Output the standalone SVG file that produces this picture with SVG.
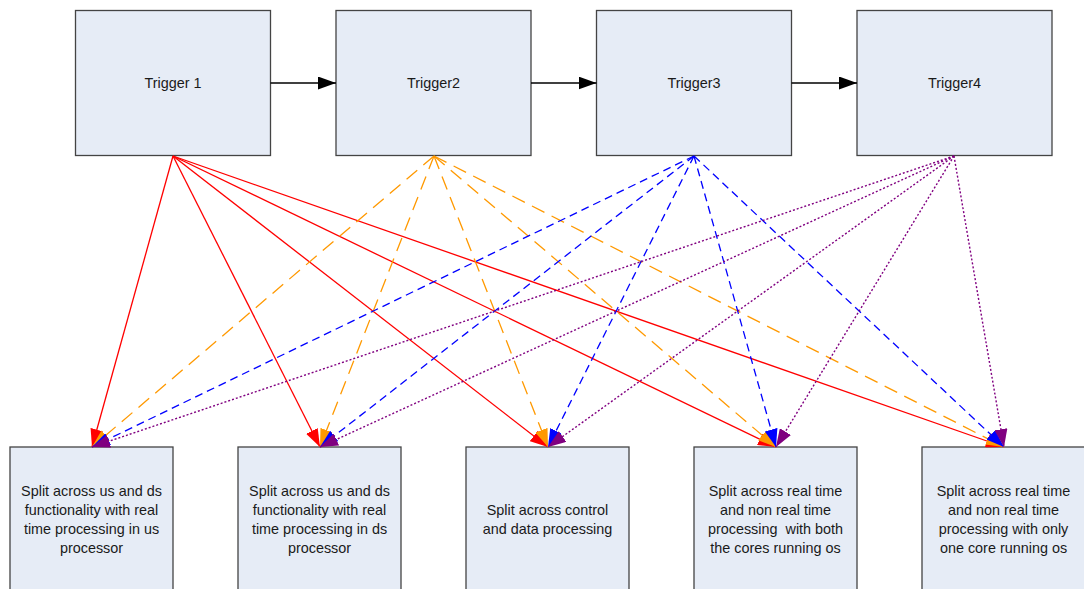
<svg xmlns="http://www.w3.org/2000/svg" width="1084" height="589" viewBox="0 0 1084 589">
<style>
.box{fill:#E6ECF6;stroke:#444;stroke-width:1.3}
text{font-family:"Liberation Sans",Arial,sans-serif;font-size:14.4px;fill:#1a1a1a;text-anchor:middle}
.r{stroke:#FF0000;stroke-width:1.3;fill:none;marker-end:url(#mr)}
.o{stroke:#FF9900;stroke-width:1.3;fill:none;stroke-dasharray:14 8;marker-end:url(#mo)}
.b{stroke:#0000FF;stroke-width:1.3;fill:none;stroke-dasharray:8 5;marker-end:url(#mb)}
.p{stroke:#800080;stroke-width:1.4;fill:none;stroke-dasharray:2 2;marker-end:url(#mp)}
.k{stroke:#000;stroke-width:1.3;fill:none;marker-end:url(#mk)}
</style>
<defs>
<marker id="mr" markerUnits="userSpaceOnUse" markerWidth="19" markerHeight="13" refX="18" refY="6.5" orient="auto"><path d="M0,0 L18,6.5 L0,13 z" fill="#FF0000"/></marker>
<marker id="mo" markerUnits="userSpaceOnUse" markerWidth="19" markerHeight="13" refX="18" refY="6.5" orient="auto"><path d="M0,0 L18,6.5 L0,13 z" fill="#FF9900"/></marker>
<marker id="mb" markerUnits="userSpaceOnUse" markerWidth="19" markerHeight="13" refX="18" refY="6.5" orient="auto"><path d="M0,0 L18,6.5 L0,13 z" fill="#0000FF"/></marker>
<marker id="mp" markerUnits="userSpaceOnUse" markerWidth="19" markerHeight="13" refX="18" refY="6.5" orient="auto"><path d="M0,0 L18,6.5 L0,13 z" fill="#800080"/></marker>
<marker id="mk" markerUnits="userSpaceOnUse" markerWidth="19" markerHeight="13" refX="18" refY="6.5" orient="auto"><path d="M0,0 L18,6.5 L0,13 z" fill="#000"/></marker>
</defs>
<rect width="1084" height="589" fill="#fff"/>
<g id="trigger1"><rect class="box" x="75.5" y="10.5" width="195" height="145"/><text x="173" y="88">Trigger 1</text></g>
<g id="trigger2"><rect class="box" x="336" y="10.5" width="195" height="145"/><text x="433.5" y="88">Trigger2</text></g>
<g id="trigger3"><rect class="box" x="596.5" y="10.5" width="195" height="145"/><text x="694" y="88">Trigger3</text></g>
<g id="trigger4"><rect class="box" x="857" y="10.5" width="195" height="145"/><text x="954.5" y="88">Trigger4</text></g>
<g id="split1"><rect class="box" x="10" y="447" width="163" height="160"/><text x="91.5" y="496">Split across us and ds</text><text x="91.5" y="515">functionality with real</text><text x="91.5" y="534">time processing in us</text><text x="91.5" y="553">processor</text></g>
<g id="split2"><rect class="box" x="238" y="447" width="163" height="160"/><text x="319.5" y="496">Split across us and ds</text><text x="319.5" y="515">functionality with real</text><text x="319.5" y="534">time processing in ds</text><text x="319.5" y="553">processor</text></g>
<g id="split3"><rect class="box" x="466" y="447" width="163" height="160"/><text x="547.5" y="515">Split across control</text><text x="547.5" y="534">and data processing</text></g>
<g id="split4"><rect class="box" x="694" y="447" width="163" height="160"/><text x="775.5" y="496">Split across real time</text><text x="775.5" y="515">and non real time</text><text x="775.5" y="534" xml:space="preserve">processing  with both</text><text x="775.5" y="553">the cores running os</text></g>
<g id="split5"><rect class="box" x="922" y="447" width="163" height="160"/><text x="1003.5" y="496">Split across real time</text><text x="1003.5" y="515">and non real time</text><text x="1003.5" y="534">processing with only</text><text x="1003.5" y="553">one core running os</text></g>
<g id="connectors">
<line class="k" x1="270.5" y1="83" x2="336" y2="83"/>
<line class="k" x1="531" y1="83" x2="596.5" y2="83"/>
<line class="k" x1="791.5" y1="83" x2="857" y2="83"/>
<line class="r" x1="173" y1="156" x2="92" y2="447"/>
<line class="r" x1="173" y1="156" x2="320" y2="447"/>
<line class="r" x1="173" y1="156" x2="548" y2="447"/>
<line class="r" x1="173" y1="156" x2="776" y2="447"/>
<line class="r" x1="173" y1="156" x2="1004" y2="447"/>
<line class="o" x1="434" y1="156" x2="92" y2="447"/>
<line class="o" x1="434" y1="156" x2="320" y2="447"/>
<line class="o" x1="434" y1="156" x2="548" y2="447"/>
<line class="o" x1="434" y1="156" x2="776" y2="447"/>
<line class="o" x1="434" y1="156" x2="1004" y2="447"/>
<line class="b" x1="694" y1="156" x2="92" y2="447"/>
<line class="b" x1="694" y1="156" x2="320" y2="447"/>
<line class="b" x1="694" y1="156" x2="548" y2="447"/>
<line class="b" x1="694" y1="156" x2="776" y2="447"/>
<line class="b" x1="694" y1="156" x2="1004" y2="447"/>
<line class="p" x1="954" y1="156" x2="92" y2="447"/>
<line class="p" x1="954" y1="156" x2="320" y2="447"/>
<line class="p" x1="954" y1="156" x2="548" y2="447"/>
<line class="p" x1="954" y1="156" x2="776" y2="447"/>
<line class="p" x1="954" y1="156" x2="1004" y2="447"/>
</g>
</svg>
